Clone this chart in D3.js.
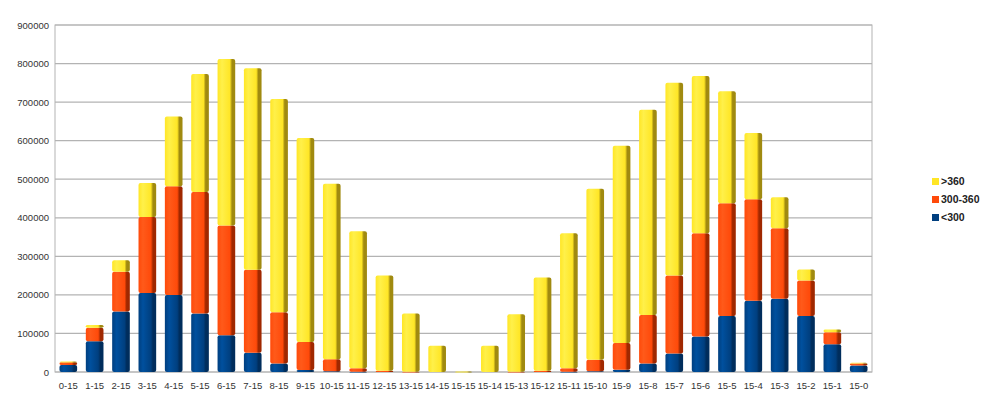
<!DOCTYPE html><html><head><meta charset="utf-8">
<script src="https://cdn.jsdelivr.net/npm/d3@7"></script>
<style>body{margin:0;background:#fff}text{font-family:"Liberation Sans",Arial,sans-serif}</style></head><body>
<svg id="c" width="1000" height="403"></svg>
<script>
const categories=["0-15","1-15","2-15","3-15","4-15","5-15","6-15","7-15","8-15","9-15","10-15","11-15","12-15","13-15","14-15","15-15","15-14","15-13","15-12","15-11","15-10","15-9","15-8","15-7","15-6","15-5","15-4","15-3","15-2","15-1","15-0"];
const low=[18000,80000,157000,205000,200000,152000,95000,50000,22000,5000,2000,500,0,0,0,0,0,0,0,500,2000,6000,22000,48000,92000,145000,185000,190000,145000,72000,17000];
const mid=[7000,35000,103000,197000,282000,315000,285000,215000,133000,73000,31000,9500,3000,500,0,0,0,500,3000,9500,30000,69000,126000,202000,268000,293000,263000,183000,92000,31000,5000];
const high=[2000,7000,30000,88000,181000,306000,432000,523000,553000,529000,455000,355000,247000,151500,68000,1000,68000,149500,242000,350000,443000,512000,532000,500000,408000,290000,172000,80000,29000,7000,2000];
const seriesNames=["<300","300-360",">360"];
const yTicks=[0,100000,200000,300000,400000,500000,600000,700000,800000,900000];
const colors=[["#003f7f","#00509e","#002d5c"],["#ff4a0a","#ff5a1a","#a02800"],["#ffe626","#fff04a","#a08a10"]];
const svg=d3.select("#c");
const L=55,R=872,T=25,B=372;
const x=d3.scaleBand().domain(categories).range([L,R]).paddingInner(0.33).paddingOuter(0.17);
const y=d3.scaleLinear().domain([0,900000]).range([B,T]);
const defs=svg.append("defs");
colors.forEach((c,i)=>{const g=defs.append("linearGradient").attr("id","g"+i);
 g.append("stop").attr("offset","0%").attr("stop-color",c[0]);
 g.append("stop").attr("offset","25%").attr("stop-color",c[1]);
 g.append("stop").attr("offset","70%").attr("stop-color",c[0]);
 g.append("stop").attr("offset","82%").attr("stop-color",c[2]);
 g.append("stop").attr("offset","100%").attr("stop-color",c[2]);});
svg.append("rect").attr("x",L).attr("y",T).attr("width",R-L).attr("height",B-T).attr("fill","#fff").attr("stroke","#b3b3b3");
svg.append("g").selectAll("line").data(yTicks).join("line").attr("x1",L).attr("x2",R).attr("y1",d=>y(d)).attr("y2",d=>y(d)).attr("stroke","#b3b3b3").attr("stroke-width",1.2);
svg.append("g").selectAll("text").data(yTicks).join("text").attr("x",L-6).attr("y",d=>y(d)+3.5).attr("text-anchor","end").attr("font-size",9.5).attr("fill","#333").text(d=>d);
svg.append("g").selectAll("text").data(categories).join("text").attr("x",d=>x(d)+x.bandwidth()/2).attr("y",B+17).attr("text-anchor","middle").attr("font-size",9.5).attr("fill","#333").text(d=>d);
const data=categories.map((c,i)=>({c,v:[low[i],mid[i],high[i]]}));
const segs=[];data.forEach(d=>{let acc=0;d.v.forEach((v,s)=>{if(v>0)segs.push({c:d.c,s,y0:acc,y1:acc+v});acc+=v;});});
svg.append("g").selectAll("rect").data(segs).join("rect").attr("x",d=>x(d.c)).attr("width",x.bandwidth())
 .attr("y",d=>y(d.y1)).attr("height",d=>Math.max(0.8,y(d.y0)-y(d.y1))).attr("rx",2).attr("fill",d=>"url(#g"+d.s+")");
const leg=svg.append("g");
[2,1,0].forEach((s,i)=>{leg.append("rect").attr("x",932).attr("y",178+i*18).attr("width",7).attr("height",7).attr("fill",colors[s][0]);
 leg.append("text").attr("x",941).attr("y",185+i*18).attr("font-size",10.5).attr("font-weight","bold").attr("fill","#222").text(seriesNames[s]);});
</script></body></html>
